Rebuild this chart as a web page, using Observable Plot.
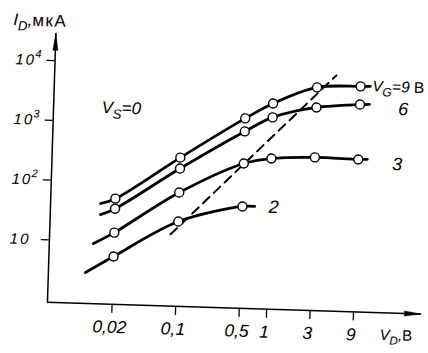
<!DOCTYPE html>
<html><head><meta charset="utf-8">
<script src="https://cdn.jsdelivr.net/npm/d3@7"></script>
<script src="https://cdn.jsdelivr.net/npm/@observablehq/plot@0.6"></script>
<style>
html,body{margin:0;padding:0;background:#fff;overflow:hidden;width:428px;height:353px}
#chart{position:absolute;left:0;top:0;width:428px;height:353px;transform:rotate(1.8deg);transform-origin:214px 176px}
#chart svg{display:block}
#chart g[aria-label="y-axis tick label"] text{letter-spacing:2px}
</style></head><body><div id="chart"></div>
<script>
// ---- data ----
const vdPoints = [0.02, 0.1, 0.5, 1, 3, 9];           // V_D, B (circle positions)
const idVg9 = [53, 279, 1365, 2510, 4910, 5390];        // I_D, мкА at V_G = 9 B
const idVg6 = [36, 183, 826, 1466, 2265, 2672];         // V_G = 6
const idVg3 = [14.3, 72.4, 240, 301, 331, 322];         // V_G = 3
const vdVg2 = [0.02, 0.1, 0.5];
const idVg2 = [5.7, 23.7, 45.8];                        // V_G = 2
const seriesNames = ["9", "6", "3", "2"];
const lineStartVd = [0.0138, 0.0139, 0.0119, 0.00995];  // where each drawn curve begins
const lineStartId = [43.2, 28.2, 9.16, 2.97];
const lineEndVd = [11.5, 11.4, 11.3, 0.68];             // where each drawn curve ends
const lineEndId = [5460, 2730, 327, 46.5];
const dashVd = [0.0828, 4.83];                          // dashed saturation line
const dashId = [14.3, 7980];
const vdTicks = [0.02, 0.1, 0.5, 1, 3, 9];
const vdTickLabels = ["0,02", "0,1", "0,5", "1", "3", "9"];
const idTicks = [10, 100, 1000, 10000];
const idTickBase = ["10", "10", "10", "10"];
const idTickExp = ["", "2", "3", "4"];
const curveLabels = ["V_{G}=9 В", "6", "3", "2"];
const titleText = "I_{D},мкА";
const xAxisText = "V_{D},В";
const noteText = "V_{S}=0";
const xDomain = [0.0039, 50];
const yDomain = [0.9, 28600];

// ---- tables built from the arrays ----
const pointSets = [[vdPoints, idVg9], [vdPoints, idVg6], [vdPoints, idVg3], [vdVg2, idVg2]];
const lineRows = [], dotRows = [];
pointSets.forEach(([xs, ys], i) => {
  lineRows.push({vd: lineStartVd[i], id: lineStartId[i], s: seriesNames[i]});
  xs.forEach((x, j) => {
    lineRows.push({vd: x, id: ys[j], s: seriesNames[i]});
    dotRows.push({vd: x, id: ys[j], s: seriesNames[i]});
  });
  lineRows.push({vd: lineEndVd[i], id: lineEndId[i], s: seriesNames[i]});
});
const dashRows = dashVd.map((x, i) => ({vd: x, id: dashId[i]}));
const expRows = idTicks.map((y, i) => ({id: y, e: idTickExp[i]})).filter(d => d.e);
const xTickRows = vdTicks.map((x, i) => ({vd: x, t: vdTickLabels[i]}));

const font = "'Liberation Sans', Arial, sans-serif";
const tickLine = {draw(ctx, l) { ctx.moveTo(0, 0); ctx.lineTo(0, -l); }};
function labelAt(i, opts) {
  return Plot.text([{vd: lineEndVd[i], id: lineEndId[i], t: curveLabels[i]}],
    {x: "vd", y: "id", text: "t", fontStyle: "italic", fill: "black", ...opts});
}

const chart = Plot.plot({
  width: 428, height: 353,
  marginLeft: 51, marginRight: 3, marginTop: 38, marginBottom: 46,
  style: {fontFamily: font, background: "white", color: "black", overflow: "visible"},
  x: {type: "log", domain: xDomain, axis: null},
  y: {type: "log", domain: yDomain},
  marks: [
    Plot.ruleY([yDomain[0]], {stroke: "black", strokeWidth: 1.5}),
    Plot.ruleX([xDomain[0]], {stroke: "black", strokeWidth: 1.5}),
    Plot.vector([{x: xDomain[0], y: yDomain[1]}], {x: "x", y: "y", shape: "spike", r: 2.5, length: 17, rotate: 0, anchor: "end", fill: "black", stroke: "black", strokeWidth: 0.5}),
    Plot.vector([{x: xDomain[1], y: yDomain[0]}], {x: "x", y: "y", shape: "spike", r: 2.5, length: 17, rotate: 90, anchor: "end", fill: "black", stroke: "black", strokeWidth: 0.5}),
    // x-axis ticks and labels
    Plot.vector(xTickRows, {x: "vd", frameAnchor: "bottom", shape: tickLine, length: 8, rotate: 180, anchor: "start", stroke: "black", strokeWidth: 1.3}),
    Plot.text(xTickRows, {x: "vd", text: "t", frameAnchor: "bottom", dy: 16, dx: -2, lineAnchor: "top", fontSize: 17.5, fontStyle: "italic", fill: "black", style: "letter-spacing:1px"}),
    Plot.axisY({ticks: idTicks, tickFormat: d => idTickBase[idTicks.indexOf(d)], tickSize: 8, tickPadding: 11, fontSize: 15, fontStyle: "italic", label: null, strokeWidth: 1.3}),
    Plot.text(expRows, {y: "id", text: "e", frameAnchor: "left", dx: -20, dy: -6, textAnchor: "start", fontSize: 11, fontStyle: "italic", fill: "black"}),
    Plot.line(dashRows, {x: "vd", y: "id", stroke: "black", strokeWidth: 2, strokeDasharray: "9,6"}),
    Plot.line(lineRows, {x: "vd", y: "id", z: "s", curve: "catmull-rom", stroke: "black", strokeWidth: 2.8}),
    Plot.dot(dotRows, {x: "vd", y: "id", r: 4.5, fill: "white", stroke: "black", strokeWidth: 1.4}),
    labelAt(0, {dx: 2, textAnchor: "start", fontSize: 15.5}),
    labelAt(1, {dx: 34, dy: 4, textAnchor: "middle", fontSize: 18}),
    labelAt(2, {dx: 30, dy: 4, textAnchor: "middle", fontSize: 18}),
    labelAt(3, {dx: 19, dy: 0, textAnchor: "middle", fontSize: 18}),
    Plot.text([noteText], {frameAnchor: "top-left", dx: 48, dy: 78, lineAnchor: "bottom", textAnchor: "start", fontSize: 17, fontStyle: "italic", fill: "black", style: "letter-spacing:1.5px"}),
    Plot.text([titleText], {frameAnchor: "top-left", dx: -43, dy: -7, lineAnchor: "bottom", textAnchor: "start", fontSize: 17, fontStyle: "italic", fill: "black", style: "letter-spacing:1px"}),
    Plot.text([xAxisText], {frameAnchor: "bottom-right", dx: -41, dy: 27, lineAnchor: "bottom", textAnchor: "start", fontSize: 15, fontStyle: "italic", fill: "black"})
  ]
});
document.getElementById("chart").appendChild(chart);

// subscripts / upright Cyrillic as tspans
function richify(svg) {
  d3.select(svg).selectAll("text").each(function () {
    const t = this.textContent;
    if (!/[_^]\{|[\u0400-\u04FF]/.test(t)) return;
    const fs = parseFloat(getComputedStyle(this).fontSize) || 14;
    const el = d3.select(this);
    this.textContent = "";
    let shift = 0;
    const re = /([_^])\{([^}]*)\}|([^_^]+)/g;
    let m;
    while ((m = re.exec(t))) {
      let str, target = 0, size = null;
      if (m[1]) { str = m[2]; target = m[1] === "_" ? 0.3 * fs : -0.4 * fs; size = 0.78 * fs; }
      else str = m[3];
      const runs = str.match(/[\u0400-\u04FF]+|[^\u0400-\u04FF]+/g) || [];
      runs.forEach(r => {
        const ts = el.append("tspan").text(r);
        const dy = target - shift;
        if (dy) ts.attr("dy", dy);
        shift = target;
        if (size) ts.attr("font-size", size);
        if (/[\u0400-\u04FF]/.test(r)) ts.attr("font-style", "normal").attr("letter-spacing", "1.5px");
      });
    }
  });
}
richify(chart);
</script></body></html>
